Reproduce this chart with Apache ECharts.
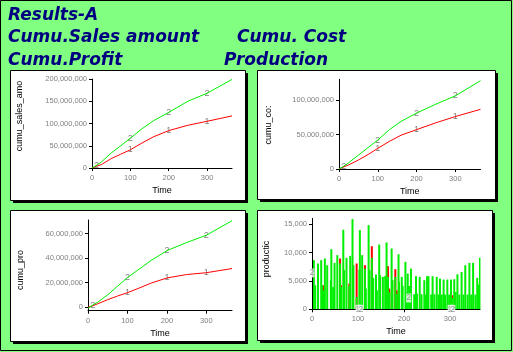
<!DOCTYPE html>
<html>
<head>
<meta charset="utf-8">
<script src="https://cdn.jsdelivr.net/npm/echarts@6/dist/echarts.min.js"></script>
<style>
  html, body { margin: 0; padding: 0; background: #80ff80; }
  #main { width: 513px; height: 352px; }
</style>
</head>
<body>
<div id="main"></div>
<script>
// time points (days) that the cumulative curves were read at
const days = [0, 12, 25, 50, 75, 100, 130, 160, 200, 250, 300, 365];
// values in millions; run 1 = red, run 2 = green
const salesRun1 = [0, 4, 8, 21, 31, 41, 56, 70, 84, 96, 105, 117];
const salesRun2 = [0, 6, 14, 33.7, 50, 67, 88, 106, 125, 150, 168, 199];
const costRun1 = [0, 3, 6, 13, 21, 30, 40, 49, 57, 67, 76, 86.5];
const costRun2 = [0, 4, 9, 20, 31, 42, 57, 69, 81, 94, 106, 128];
const profitRun1 = [0, 1, 2.7, 6, 9, 11.7, 15.5, 19.5, 23.7, 26.5, 28, 31.4];
const profitRun2 = [-1, 1.5, 4, 10, 17, 24, 31, 38, 46, 52.6, 58.6, 70.4];
// which points get the "1" / "2" run markers
const markIdx1 = [5, 8, 10];
const markIdx2 = [1, 5, 8, 10];

// production bars [day, units]
const prodRun2 = [
  [4, 8640], [7, 4230], [13, 8060], [20, 8640], [22, 4230], [25, 3350], [28, 8940], [33, 7760],
  [41, 5120], [42, 10580], [46, 3940], [49, 8170], [55, 9530], [61, 8060], [63, 3950], [68, 14000],
  [70, 6880], [75, 9060], [81, 4120], [83, 9410], [88, 15880], [90, 7760], [97, 2180], [103, 7000],
  [104, 13940], [109, 9530], [115, 7170], [117, 3650], [123, 14820], [125, 6880], [130, 9060], [133, 5530],
  [139, 6120], [141, 3350], [146, 11400], [148, 6000], [154, 5700], [159, 5880], [162, 11760], [165, 5700],
  [168, 3000], [173, 10700], [175, 5120], [181, 5700], [184, 2700], [188, 9700], [189, 4820], [195, 5700],
  [197, 4120], [203, 8350], [205, 3060], [208, 6290], [211, 4100], [215, 7170], [222, 2650], [226, 5820],
  [228, 2760], [234, 5700], [238, 2650], [244, 5120], [247, 2590], [250, 5820], [253, 5820], [259, 2590],
  [262, 5820], [266, 2650], [271, 5700], [275, 2590], [278, 5410], [282, 2590], [286, 5230], [289, 2590],
  [294, 5230], [298, 2590], [302, 5230], [305, 2000], [309, 5290], [312, 3060], [316, 6170], [320, 2590],
  [325, 6580], [329, 2590], [333, 7760], [338, 2590], [342, 8170], [346, 2590], [350, 8170], [355, 2590],
  [359, 5530], [362, 4350], [365, 9060]
];
const prodRun1 = [
  [25, 4230], [61, 8940], [63, 4230], [81, 4530], [97, 8060], [115, 7760], [130, 11110],
  [165, 7590], [168, 3650], [181, 7060], [184, 3350], [305, 2470]
];
const prodMarks1 = [[100, 0], [300, 0]];
const prodMarks2 = [[0, 6400], [106, 0], [210, 2000], [306, 0]];

const timeTicks = [0, 100, 200, 300];

const FONT = 'Liberation Sans, Arial, sans-serif';
const TITLE_FONT = 'DejaVu Sans, Verdana, sans-serif';
const RED = '#ff0000';
const GREEN = '#00ee00';
const GRAY = '#808080';

function fmt(v) {
  return Math.round(v).toLocaleString('en-US');
}

function pairs(vals) {
  return days.map((d, i) => [d, vals[i] * 1e6]);
}

function marks(vals, idx, txt) {
  return {
    symbol: 'circle',
    symbolSize: 0,
    label: { show: true, formatter: txt, position: 'inside', color: GRAY, fontSize: 9, fontFamily: FONT },
    data: idx.map(i => ({ coord: [days[i], vals[i] * 1e6] }))
  };
}

function xAx(grid) {
  return {
    type: 'value', gridIndex: grid, min: 0, max: 365, z: 5,
    name: 'Time', nameLocation: 'middle', nameGap: 18,
    nameTextStyle: { color: '#000', fontSize: 9, fontFamily: FONT },
    axisLine: { onZero: false, lineStyle: { color: '#000', width: 1 } },
    axisTick: { length: 3, customValues: timeTicks, lineStyle: { color: '#000' } },
    axisLabel: { customValues: timeTicks, color: GRAY, fontSize: 7.5, fontFamily: FONT, margin: 6 },
    splitLine: { show: false }
  };
}

function yAx(grid, min, max, ticks) {
  return {
    type: 'value', gridIndex: grid, min: min, max: max, z: 5,
    axisLine: { show: true, lineStyle: { color: '#000', width: 1 } },
    axisTick: { show: true, length: 3, customValues: ticks, lineStyle: { color: '#000' } },
    axisLabel: { customValues: ticks, color: GRAY, fontSize: 7.5, fontFamily: FONT, margin: 5, formatter: fmt },
    splitLine: { show: false }
  };
}

function lineSeries(grid, vals, color, idx, txt) {
  return {
    type: 'line', xAxisIndex: grid, yAxisIndex: grid, z: 6,
    data: pairs(vals), showSymbol: false,
    lineStyle: { color: color, width: 1 },
    markPoint: marks(vals, idx, txt)
  };
}

function panel(x, y, w, h) {
  return [
    { type: 'rect', shape: { x: x + 3, y: y + 3, width: w, height: h }, style: { fill: '#000' }, z: -2 },
    { type: 'rect', shape: { x: x + 0.5, y: y + 0.5, width: w, height: h }, style: { fill: '#fff', stroke: '#000', lineWidth: 1 }, z: -1 }
  ];
}

function titleText(x, y, t) {
  return {
    type: 'text', x: x, y: y, z: 5,
    style: { text: t, fill: '#000080', font: 'italic bold 17px ' + TITLE_FONT, verticalAlign: 'middle' }
  };
}

function yName(x, y, t) {
  return {
    type: 'text', x: x, y: y, rotation: Math.PI / 2, z: 5,
    style: { text: t, fill: '#000', font: '9px ' + FONT, align: 'center', verticalAlign: 'middle' }
  };
}

const option = {
  backgroundColor: '#80ff80',
  animation: false,
  graphic: [
    { type: 'rect', shape: { x: 0.5, y: 0.5, width: 511, height: 350 }, style: { fill: 'none', stroke: '#000', lineWidth: 1 }, z: -3 },
    ...panel(10, 70, 235, 130),
    ...panel(257, 70, 238, 129),
    ...panel(10, 210, 235, 131),
    ...panel(257, 210, 235, 130),
    titleText(8, 16, 'Results-A'),
    titleText(8, 38, 'Cumu.Sales amount'),
    titleText(237, 38, 'Cumu. Cost'),
    titleText(8, 61, 'Cumu.Profit'),
    titleText(224, 61, 'Production'),
    yName(20, 116, 'cumu_sales_amo'),
    yName(269, 125, 'cumu_co:'),
    yName(21, 270, 'cumu_pro'),
    yName(267, 259, 'productic')
  ],
  grid: [
    { left: 92, top: 79, width: 140, height: 89 },
    { left: 339, top: 79.3, width: 141.5, height: 89.7 },
    { left: 88, top: 220, width: 144, height: 90.7 },
    { left: 312, top: 218.4, width: 168, height: 90.9 }
  ],
  xAxis: [xAx(0), xAx(1), xAx(2), xAx(3)],
  yAxis: [
    yAx(0, 0, 200e6, [0, 50e6, 100e6, 150e6, 200e6]),
    yAx(1, 0, 130e6, [0, 50e6, 100e6]),
    yAx(2, -3e6, 71e6, [0, 20e6, 40e6, 60e6]),
    yAx(3, 0, 16000, [0, 5000, 10000, 15000])
  ],
  series: [
    lineSeries(0, salesRun1, RED, markIdx1, '1'),
    lineSeries(0, salesRun2, GREEN, markIdx2, '2'),
    lineSeries(1, costRun1, RED, markIdx1, '1'),
    lineSeries(1, costRun2, GREEN, markIdx2, '2'),
    lineSeries(2, profitRun1, RED, markIdx1, '1'),
    lineSeries(2, profitRun2, GREEN, markIdx2, '2'),
    {
      type: 'bar', xAxisIndex: 3, yAxisIndex: 3, data: prodRun1,
      barWidth: 2, itemStyle: { color: RED }
    },
    {
      type: 'bar', xAxisIndex: 3, yAxisIndex: 3, data: prodRun2,
      barWidth: 2, barGap: '-100%', itemStyle: { color: GREEN }
    },
    {
      type: 'scatter', xAxisIndex: 3, yAxisIndex: 3, data: prodMarks1, symbolSize: 0, z: 7,
      label: { show: true, formatter: '1', position: 'inside', color: GRAY, fontSize: 9, fontFamily: FONT, backgroundColor: '#fff' }
    },
    {
      type: 'scatter', xAxisIndex: 3, yAxisIndex: 3, data: prodMarks2, symbolSize: 0, z: 7,
      label: { show: true, formatter: '2', position: 'inside', color: GRAY, fontSize: 9, fontFamily: FONT, backgroundColor: '#fff' }
    }
  ]
};

const chart = echarts.init(document.getElementById('main'));
chart.setOption(option);
</script>
</body>
</html>
